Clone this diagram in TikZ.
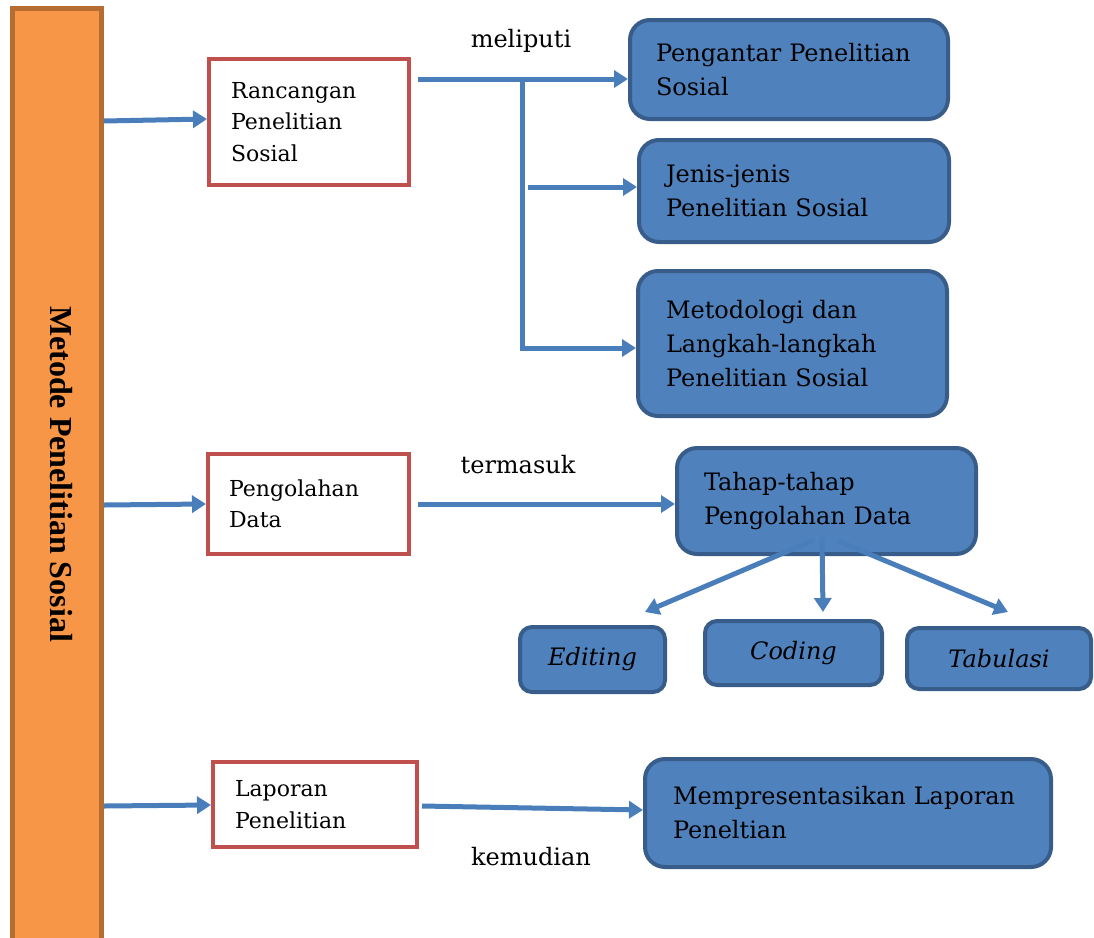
\documentclass[tikz,border=0pt]{standalone}
\usepackage{fontspec}
\setmainfont{DejaVu Serif}
\newfontfamily\titlefont{Liberation Serif}
\usetikzlibrary{arrows.meta}
\definecolor{bluefill}{HTML}{4F81BD}
\definecolor{bluedark}{HTML}{385D8A}
\definecolor{arrowblue}{HTML}{4A7EBB}
\definecolor{redline}{HTML}{C0504D}
\definecolor{orfill}{HTML}{F79646}
\definecolor{orline}{HTML}{B66D31}
\tikzset{
  bluebox/.style={draw=bluedark, fill=bluefill, line width=4pt, rounded corners=20pt,
    align=left, font=\fontsize{24}{34}\selectfont, text=black},
  smallbox/.style={draw=bluedark, fill=bluefill, line width=4pt, rounded corners=12pt,
    align=center, font=\fontsize{24}{30}\selectfont\itshape, text=black, inner sep=0pt},
  redbox/.style={draw=redline, fill=white, line width=4pt, align=left,
    font=\fontsize{22}{31.5}\selectfont, text=black},
  arr/.style={draw=arrowblue, line width=5pt, -{Triangle[length=14pt,width=17pt]}},
  conn/.style={draw=arrowblue, line width=5pt},
  lbl/.style={font=\fontsize{24}{30}\selectfont, anchor=base, inner sep=0pt}
}
\begin{document}
\begin{tikzpicture}[x=1pt,y=-1pt]
\useasboundingbox (0,0) rectangle (1094,937);
% left bar
\node[draw=orline, fill=orfill, line width=5pt, minimum width=89pt, minimum height=942pt, inner sep=0pt] (bar) at (57,479.5) {};
\node[rotate=-90, font=\titlefont\bfseries\fontsize{32}{36}\selectfont, inner sep=0pt] (title) at (61,474) {Metode Penelitian Sosial};
% red boxes
\node[redbox, minimum width=200pt, minimum height=126pt, text width=156pt, inner xsep=22pt] (r1) at (309,122) {Rancangan\\Penelitian\\Sosial};
\node[redbox, minimum width=201pt, minimum height=100pt, text width=159pt, inner xsep=21pt] (r2) at (308.5,504) {Pengolahan\\Data};
\node[redbox, minimum width=204pt, minimum height=85pt, text width=160pt, inner xsep=22pt] (r3) at (315,804.5) {Laporan\\Penelitian};
% blue boxes
\node[bluebox, minimum width=318pt, minimum height=99pt, text width=266pt, inner xsep=26pt] (b1) at (789,69.5) {Pengantar Penelitian\\Sosial};
\node[bluebox, minimum width=310pt, minimum height=102pt, text width=256pt, inner xsep=27pt] (b2) at (794,191) {Jenis-jenis\\Penelitian Sosial};
\node[bluebox, minimum width=309pt, minimum height=145pt, text width=253pt, inner xsep=28pt] (b3) at (792.5,343.5) {Metodologi dan\\Langkah-langkah\\Penelitian Sosial};
\node[bluebox, minimum width=299pt, minimum height=106pt, text width=245pt, inner xsep=27pt] (b4) at (826.5,501) {Tahap-tahap\\Pengolahan Data};
\node[bluebox, minimum width=406pt, minimum height=108pt, text width=350pt, inner xsep=28pt] (b5) at (848,813) {Mempresentasikan Laporan\\Peneltian};
% small boxes
\node[smallbox, minimum width=145pt, minimum height=65pt] (ed) at (592.5,659.5) {Editing};
\node[smallbox, minimum width=177pt, minimum height=64pt] (co) at (793.5,653) {Coding};
\node[smallbox, minimum width=184pt, minimum height=61pt] (ta) at (999,658.5) {Tabulasi};
% labels
\node[lbl] (l1) at (521,47) {meliputi};
\node[lbl] (l2) at (518,473) {termasuk};
\node[lbl] (l3) at (531,865) {kemudian};
% arrows from bar
\draw[arr] (bar.east |- 0,121) -- (r1.west |- 0,119);
\draw[arr] (bar.east |- 0,505) -- (r2.west |- 0,504);
\draw[arr] (bar.east |- 0,806) -- (r3.west |- 0,805);
% meliputi branch
\coordinate (m0) at (418,79);
\coordinate (mv) at (522,79);
\coordinate (mb) at (522,348);
\coordinate (mm) at (528,187);
\draw[arr] (m0) -- (b1.west |- m0);
\draw[conn] (mv) -- (mb);
\draw[arr] ([xshift=-2.5pt]mb) -- (b3.west |- mb);
\draw[arr] (mm) -- (b2.west |- mm);
% termasuk
\coordinate (t0) at (418,504);
\draw[arr] (t0) -- (b4.west |- t0);
% tahap to sub-steps
\coordinate (s0) at (822,537);
\coordinate (s1) at (814,540);
\coordinate (s2) at (838,541);
\coordinate (e1) at (645,612);
\coordinate (e2) at (823,612);
\coordinate (e3) at (1008,612);
\draw[arr] (s1) -- (e1);
\draw[arr] (s0) -- (e2);
\draw[arr] (s2) -- (e3);
% kemudian
\coordinate (k0) at (422,806);
\draw[arr] (k0) -- (b5.west |- 0,810);
\end{tikzpicture}
\end{document}
